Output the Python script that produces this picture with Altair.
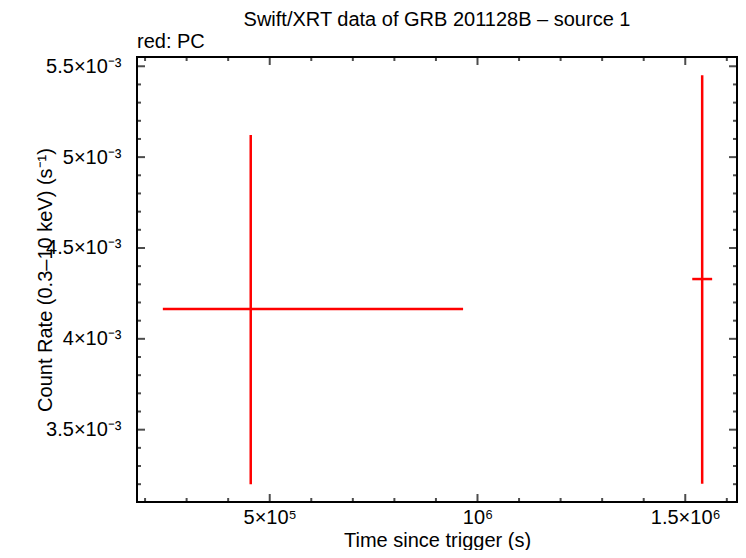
import altair as alt
import pandas as pd

# Data (PC mode points)
t = [4.543e5, 1.5407e6]
t_lo = [2.428e5, 1.5168e6]
t_hi = [9.653e5, 1.5647e6]
rate = [4.164e-3, 4.329e-3]
rate_lo = [3.199e-3, 3.202e-3]
rate_hi = [5.122e-3, 5.451e-3]

x_domain = [1.806e5, 1.6245e6]
y_domain = [3.102e-3, 5.551e-3]
x_major = [5e5, 1e6, 1.5e6]
x_minor = [2e5, 3e5, 4e5, 6e5, 7e5, 8e5, 9e5, 1.1e6, 1.2e6, 1.3e6, 1.4e6, 1.6e6]
y_major = [3.5e-3, 4e-3, 4.5e-3, 5e-3, 5.5e-3]
y_minor = [3.2e-3, 3.3e-3, 3.4e-3, 3.6e-3, 3.7e-3, 3.8e-3, 3.9e-3,
           4.1e-3, 4.2e-3, 4.3e-3, 4.4e-3, 4.6e-3, 4.7e-3, 4.8e-3, 4.9e-3,
           5.1e-3, 5.2e-3, 5.3e-3, 5.4e-3]

title_text = ["Swift/XRT data of GRB 201128B – source 1"]
legend_text = ["red: PC"]

df = pd.DataFrame({"t": t, "t_lo": t_lo, "t_hi": t_hi,
                   "rate": rate, "rate_lo": rate_lo, "rate_hi": rate_hi})

FONT = "Liberation Sans"
FS = 20
W, H = 600, 445

xs = alt.Scale(domain=x_domain, nice=False, zero=False)
ys = alt.Scale(domain=y_domain, nice=False, zero=False)

x_axis = alt.Axis(values=x_major, ticks=False, domain=False, grid=False,
                  labelExpr="datum.value == 1000000 ? '10⁶' : (datum.value == 500000 ? '5×10⁵' : '1.5×10⁶')",
                  labelPadding=5, title="Time since trigger (s)", titlePadding=3)
y_axis = alt.Axis(values=y_major, ticks=False, domain=False, grid=False,
                  labelExpr="format(datum.value*1000, '.1~f') + '×10⁻³'",
                  labelPadding=16, title="Count Rate (0.3–10 keV) (s⁻¹)",
                  titleX=-92, titleY=H / 2, titleBaseline="middle", titleAlign="center")

hbar = alt.Chart(df).mark_rule(color="#ff0000", strokeWidth=2.5).encode(
    x=alt.X("t_lo:Q", scale=xs, axis=x_axis), x2="t_hi:Q",
    y=alt.Y("rate:Q", scale=ys, axis=y_axis))
vbar = alt.Chart(df).mark_rule(color="#ff0000", strokeWidth=2.5).encode(
    x=alt.X("t:Q", scale=xs, axis=x_axis),
    y=alt.Y("rate_lo:Q", scale=ys, axis=y_axis), y2="rate_hi:Q")


def yticks(vals, xval, size):
    return alt.Chart(pd.DataFrame({"v": vals})).mark_tick(
        orient="horizontal", size=size, thickness=2, color="black", clip=True).encode(
        x=alt.XDatum(xval, type="quantitative", scale=xs, axis=x_axis),
        y=alt.Y("v:Q", scale=ys, axis=y_axis))


def xticks(vals, yval, size):
    return alt.Chart(pd.DataFrame({"v": vals})).mark_tick(
        orient="vertical", size=size, thickness=2, color="black", clip=True).encode(
        x=alt.X("v:Q", scale=xs, axis=x_axis),
        y=alt.YDatum(yval, type="quantitative", scale=ys, axis=y_axis))


tick_layers = [
    yticks(y_major, x_domain[0], 16), yticks(y_minor, x_domain[0], 8),
    yticks(y_major, x_domain[1], 16), yticks(y_minor, x_domain[1], 8),
    xticks(x_major, y_domain[0], 16), xticks(x_minor, y_domain[0], 8),
    xticks(x_major, y_domain[1], 16), xticks(x_minor, y_domain[1], 8),
]

label = alt.Chart(pd.DataFrame({"s": legend_text})).mark_text(
    align="left", baseline="middle", font=FONT, fontSize=FS, color="black").encode(
    x=alt.value(0), y=alt.value(-15), text="s:N")

title = alt.Chart(pd.DataFrame({"s": title_text})).mark_text(
    align="center", baseline="middle", font=FONT, fontSize=FS, color="black").encode(
    x=alt.value(W / 2), y=alt.value(-37), text="s:N")

chart = alt.layer(*tick_layers, hbar, vbar, label, title).properties(
    width=W, height=H,
    autosize="none",
    padding={"left": 129, "top": 49, "right": 1, "bottom": 48},
).configure_view(stroke="black", strokeWidth=2).configure_axis(
    labelFont=FONT, labelFontSize=FS, titleFont=FONT, titleFontSize=FS,
    labelColor="black", titleColor="black", titleFontWeight="normal")

chart.save("out.html", embed_options={"renderer": "svg", "actions": False})
